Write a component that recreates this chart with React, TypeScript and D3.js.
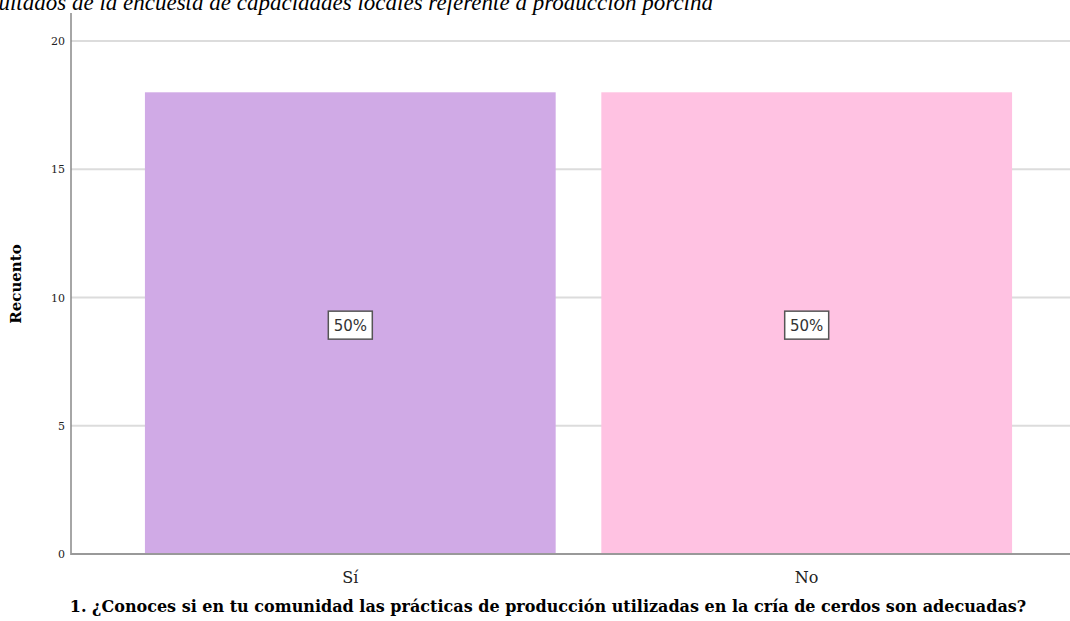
import React from "react";
import * as d3 from "d3";

const categories = ["Sí", "No"];
const counts = [18, 18];
const percentLabels = ["50%", "50%"];
const colors = ["#d0aae6", "#ffc2e2"];
const yTicks = [0, 5, 10, 15, 20];
const chartTitle = "Resultados de la encuesta de capacidades locales referente a producción porcina";
const xTitle = "1. ¿Conoces si en tu comunidad las prácticas de producción utilizadas en la cría de cerdos son adecuadas?";
const yTitle = "Recuento";

const W = 1070;
const H = 621;
const left = 71;
const top = 41;
const bottom = 554;
const right = 1070;

export default function App() {
  const y = d3.scaleLinear().domain([0, 20]).range([bottom, top]);
  const x = d3
    .scaleBand<string>()
    .domain(categories)
    .range([left, 1086])
    .paddingInner(0.1)
    .paddingOuter(0.162);
  const serif = "'DejaVu Serif', serif";
  return (
    <svg
      width={W}
      height={H}
      style={{ position: "absolute", left: 0, top: 0, background: "#fff" }}
    >
      <text
        x={713}
        y={10}
        textAnchor="end"
        fontFamily="'Liberation Serif', serif"
        fontStyle="italic"
        fontSize={23}
        fill="#000"
      >
        {chartTitle}
      </text>
      {yTicks.map((t) => (
        <g key={t}>
          {t > 0 && (
            <line x1={left} x2={right} y1={y(t)} y2={y(t)} stroke="#dcdcdc" strokeWidth={2} />
          )}
          <text
            x={left - 6}
            y={y(t) + 4}
            textAnchor="end"
            fontFamily={serif}
            fontSize={11}
            fill="#222"
          >
            {t}
          </text>
        </g>
      ))}
      {categories.map((c, i) => (
        <g key={c}>
          <rect
            x={x(c)}
            y={y(counts[i])}
            width={x.bandwidth()}
            height={y(0) - y(counts[i])}
            fill={colors[i]}
          />
          <rect
            x={x(c)! + x.bandwidth() / 2 - 22}
            y={y(counts[i] / 2) - 12}
            width={44}
            height={28}
            fill="#fff"
            stroke="#555"
            strokeWidth={1.5}
          />
          <text
            x={x(c)! + x.bandwidth() / 2}
            y={y(counts[i] / 2) + 8}
            textAnchor="middle"
            fontFamily="'DejaVu Sans', sans-serif"
            fontSize={15}
            fill="#333"
          >
            {percentLabels[i]}
          </text>
          <text
            x={x(c)! + x.bandwidth() / 2}
            y={583}
            textAnchor="middle"
            fontFamily={serif}
            fontSize={16}
            fill="#222"
          >
            {c}
          </text>
        </g>
      ))}
      <line x1={left} x2={left} y1={13} y2={bottom + 1} stroke="#888" strokeWidth={1.5} />
      <line x1={left} x2={right} y1={bottom} y2={bottom} stroke="#999" strokeWidth={2} />
      <text
        transform={`translate(21,284) rotate(-90)`}
        textAnchor="middle"
        fontFamily={serif}
        fontWeight="bold"
        fontSize={15}
        fill="#000"
      >
        {yTitle}
      </text>
      <text
        x={548}
        y={612}
        textAnchor="middle"
        fontFamily={serif}
        fontWeight="bold"
        fontSize={16}
        fill="#000"
      >
        {xTitle}
      </text>
    </svg>
  );
}
